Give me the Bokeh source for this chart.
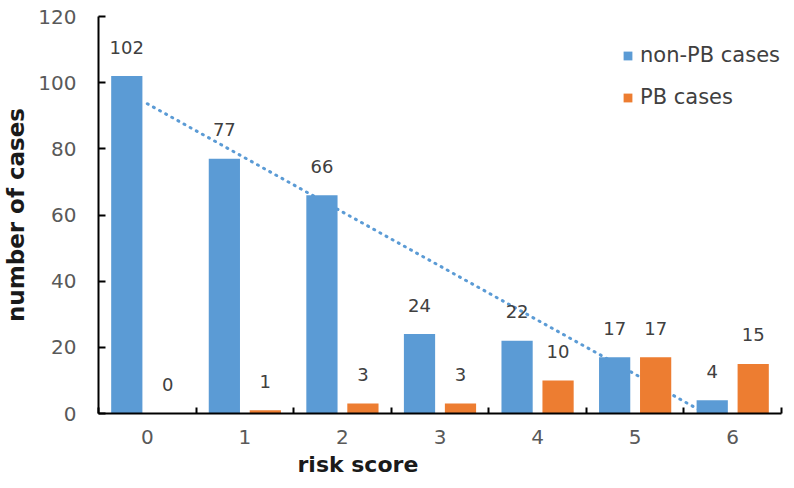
import numpy as np
from bokeh.plotting import figure
from bokeh.models import ColumnDataSource, Range1d, FixedTicker, Legend, LegendItem, Title
from bokeh.core.properties import value
from bokeh.embed import file_html
from bokeh.resources import INLINE

scores = [0, 1, 2, 3, 4, 5, 6]
tick_labels = ["0", "1", "2", "3", "4", "5", "6"]
non_pb = [102, 77, 66, 24, 22, 17, 4]
pb = [0, 1, 3, 3, 10, 17, 15]
y_ticks = [0, 20, 40, 60, 80, 100, 120]

FONT = "DejaVu Sans"
BLUE = "#5B9BD5"
ORANGE = "#ED7D31"
OFF = 0.21
BW = 0.32

src_a = ColumnDataSource(dict(x=[s - OFF for s in scores], y=non_pb, t=[str(v) for v in non_pb]))
src_b = ColumnDataSource(dict(x=[s + OFF for s in scores], y=pb, t=[str(v) for v in pb]))

p = figure(width=794, height=488, output_backend="svg", toolbar_location=None,
           x_range=Range1d(-0.5, 6.5), y_range=Range1d(0, 120),
           min_border_left=98, min_border_right=13, min_border_top=16, min_border_bottom=75)
p.outline_line_color = None
p.grid.grid_line_color = None
p.background_fill_color = "white"

# linear trendline of the non-PB series
m, b = np.polyfit(scores, non_pb, 1)
tx = [scores[0], scores[-1]]
ty = [b + m * scores[0], b + m * scores[-1]]
p.line(tx, ty, line_color=BLUE, line_width=3, line_dash="1 6", line_cap="round")

ra = p.vbar(x="x", top="y", width=BW, source=src_a, fill_color=BLUE, line_color=None)
rb = p.vbar(x="x", top="y", width=BW, source=src_b, fill_color=ORANGE, line_color=None)

for src in (src_a, src_b):
    p.text(x="x", y="y", text="t", source=src, text_align="center", text_baseline="middle",
           y_offset=-29, text_font=value(FONT), text_font_size="18px", text_color="#404040")

# x axis
xa = p.xaxis[0]
xa.ticker = FixedTicker(ticks=scores, minor_ticks=[s - 0.5 for s in scores] + [scores[-1] + 0.5])
xa.major_label_overrides = {s: l for s, l in zip(scores, tick_labels)}
xa.major_tick_in = 0
xa.major_tick_out = 0
xa.minor_tick_in = 6
xa.minor_tick_out = 0
xa.minor_tick_line_color = "black"
xa.minor_tick_line_width = 2
xa.axis_line_color = "black"
xa.axis_line_width = 2
xa.major_label_text_font = FONT
xa.major_label_text_font_size = "20px"
xa.major_label_text_color = "#595959"
xa.major_label_standoff = 16

# y axis
ya = p.yaxis[0]
ya.ticker = FixedTicker(ticks=y_ticks)
ya.minor_tick_line_color = None
ya.major_tick_in = 7
ya.major_tick_out = 0
ya.major_tick_line_color = "black"
ya.major_tick_line_width = 2
ya.axis_line_color = "black"
ya.axis_line_width = 2
ya.major_label_text_font = FONT
ya.major_label_text_font_size = "20px"
ya.major_label_text_color = "#595959"
ya.major_label_standoff = 22
ya.axis_label = "number of cases"
ya.axis_label_text_font = FONT
ya.axis_label_text_font_size = "23px"
ya.axis_label_text_font_style = "bold"
ya.axis_label_text_color = "#1a1a1a"
ya.axis_label_standoff = 6

p.add_layout(Title(text="risk score", align="left", offset=199, text_font=FONT,
                   text_font_size="22px", text_font_style="bold", text_color="#1a1a1a",
                   standoff=7), "below")

legend = Legend(items=[LegendItem(label="non-PB cases", renderers=[ra]),
                       LegendItem(label="PB cases", renderers=[rb])],
                location=(524, 304), glyph_width=11, glyph_height=11, label_standoff=7,
                spacing=18, label_text_font=FONT, label_text_font_size="21px",
                label_text_color="#404040", border_line_color=None,
                background_fill_alpha=0)
p.add_layout(legend)

open("out.html", "w").write(file_html(p, INLINE))
